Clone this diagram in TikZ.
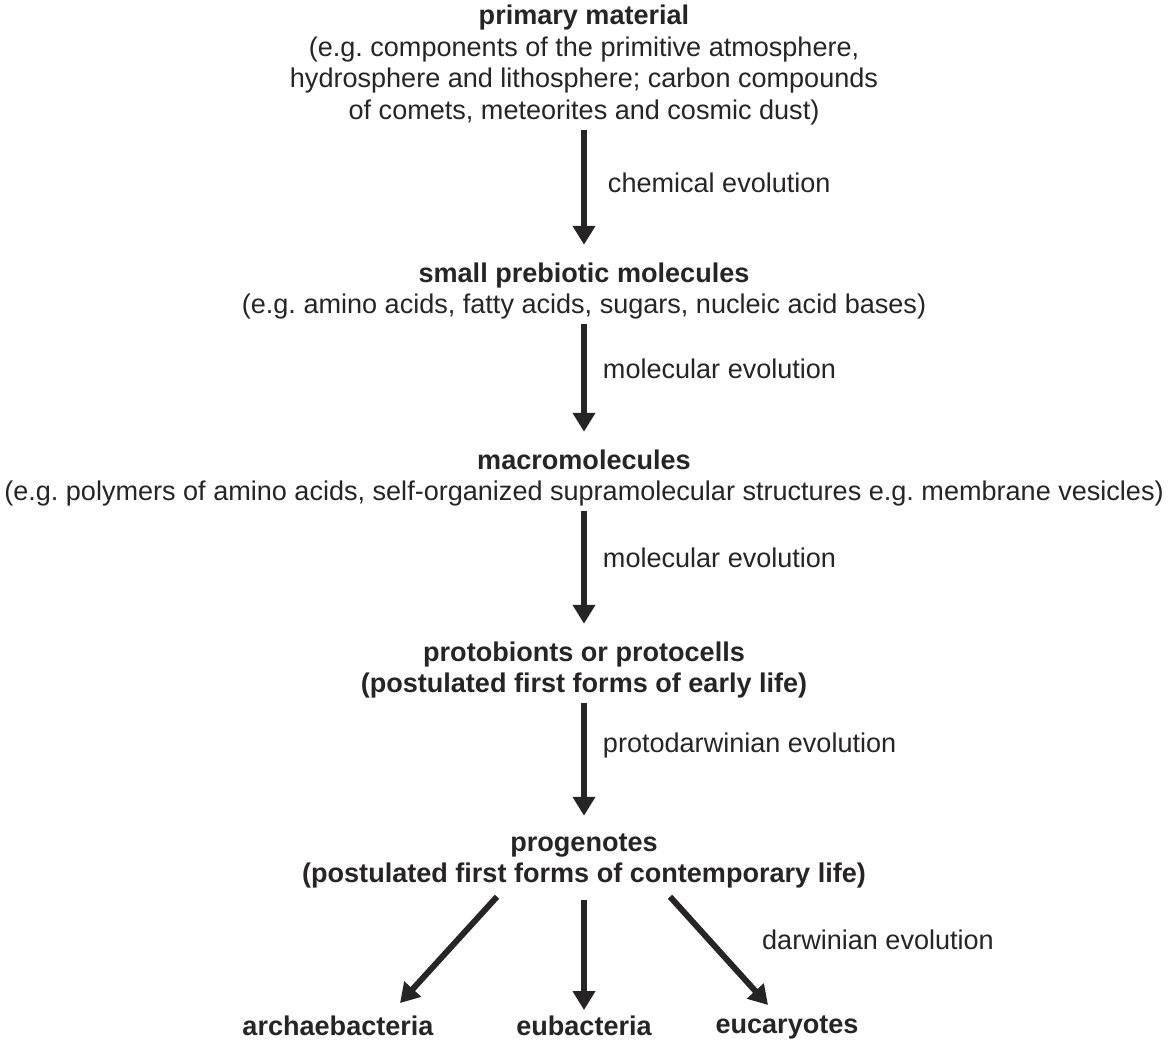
\documentclass[tikz,border=0pt]{standalone}
\usepackage{fontspec}
\setmainfont{Liberation Sans}
\usetikzlibrary{arrows.meta,positioning}
\definecolor{ink}{HTML}{262425}
\frenchspacing

\begin{document}
\begin{tikzpicture}[x=0.02cm,y=-0.02cm,
  every node/.style={inner sep=0pt,text=ink,font=\fontsize{15.4}{17.9}\selectfont},
  blk/.style={align=center},
  hd/.style={font=\fontsize{15.4}{17.9}\selectfont\bfseries},
  evo/.style={draw=ink,line width=3.4pt,-{Triangle[length=10.8pt,width=12.4pt]},shorten <=2.5pt,shorten >=10pt},
  fan/.style={evo,shorten <=0pt,shorten >=0pt},
  lbl/.style={pos=0.38,anchor=west,xshift=0.32cm}]
\useasboundingbox (0,0) rectangle (1173,1041);
\node[blk] (prim) at (584,65) {\textbf{primary material}\\(e.g. components of the primitive atmosphere,\\hydrosphere and lithosphere; carbon compounds\\of comets, meteorites and cosmic dust)};
\node[blk] (small) at (584,291) {\textbf{small prebiotic molecules}\\(e.g. amino acids, fatty acids, sugars, nucleic acid bases)};
\node[blk] (macro) at (584,478) {\textbf{macromolecules}\\(e.g. polymers of amino acids, self-organized supramolecular structures e.g. membrane vesicles)};
\node[blk,hd] (proto) at (584,670) {protobionts or protocells\\(postulated first forms of early life)};
\node[blk,hd] (prog) at (584,861) {progenotes\\(postulated first forms of contemporary life)};
\node[anchor=base,hd] (archae) at (338,1035) {archaebacteria};
\node[anchor=base,hd] (eubac) at (584,1035) {eubacteria};
\node[anchor=base,hd] (eucar) at (787,1033) {eucaryotes};
\draw[evo] (prim.south) -- node[lbl,pos=0.42,xshift=0.1cm] (chem) {chemical evolution} (small.north);
\draw[evo] (small.south) -- node[lbl] (mol1) {molecular evolution} (macro.north);
\draw[evo] (macro.south) -- node[lbl] (mol2) {molecular evolution} (proto.north);
\draw[evo] (proto.south) -- node[lbl,pos=0.35] (pdarw) {protodarwinian evolution} (prog.north);
\draw[fan] ([shift={(-87,8)}]prog.south) -- ([shift={(62,-12)}]archae.north);
\draw[fan] ([shift={(0,11)}]prog.south) -- ([shift={(0,-5)}]eubac.north);
\draw[fan] ([shift={(86,8)}]prog.south) -- node[pos=0.4,anchor=west,xshift=1cm] (darw) {darwinian evolution} ([shift={(-19,-10)}]eucar.north);
\end{tikzpicture}
\end{document}
